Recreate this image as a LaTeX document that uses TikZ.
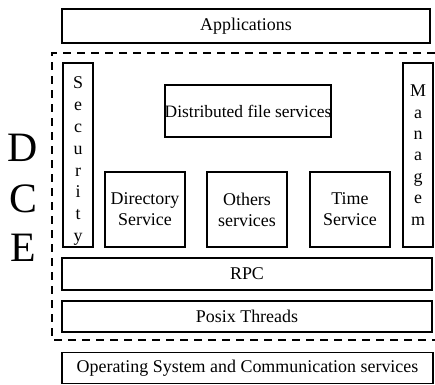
\documentclass[tikz,border=0pt]{standalone}
\usepackage{fontspec}
\setmainfont{Liberation Serif}
\usetikzlibrary{positioning}

\begin{document}
\begin{tikzpicture}[
  x=1bp, y=-1bp,
  font=\fontsize{18}{21}\selectfont,
  layer/.style={draw, line width=1.6pt, inner sep=0pt, anchor=center, align=center},
  frame/.style={line width=1.5pt, dash pattern=on 8bp off 6bp},
  dce/.style={font=\fontsize{42}{42}\selectfont, inner sep=0pt},
  stack/.style={layer, minimum width=30bp, minimum height=184bp},
]
\useasboundingbox (0,0) rectangle (435,384);
% Outer layers
\node[layer, minimum width=368bp, minimum height=34bp] (apps) at (246,26) {Applications};
\node[layer, minimum width=371bp, minimum height=31bp] (os) at (247.5,368) {Operating System and Communication services};
% DCE frame and letters
\draw[frame] (435,53) -| (52,340) -- (435,340);
\foreach \y/\l in {148/D, 199/C, 248/E}
  \node[dce] (dce-\l) at (23,\y) {\l};
% Side columns
\node[stack, font=\fontsize{18}{22}\selectfont] (sec) at (78,155) {\rule{0pt}{24bp}S\\e\\c\\u\\r\\i\\t\\y};
\node[stack, font=\fontsize{18}{21.5}\selectfont] (mgmt) at (418,155) {M\\a\\n\\a\\g\\e\\m};
% Services
\node[layer, minimum width=164bp, minimum height=52bp, font=\fontsize{17.5}{21}\selectfont] (dfs) at (248,111) {Distributed file services};
\foreach \x/\name/\txt in {145/dir/Directory\\Service, 247/oth/Others\\services, 350/time/Time\\Service}
  \node[layer, minimum width=80bp, minimum height=75bp] (\name) at (\x,209.5) {\txt};
% Lower layers
\node[layer, minimum width=370bp, minimum height=32bp] (rpc) at (247,274) {RPC};
\node[layer, minimum width=370bp, minimum height=31bp] (posix) at (247,316.5) {Posix Threads};
\end{tikzpicture}
\end{document}
